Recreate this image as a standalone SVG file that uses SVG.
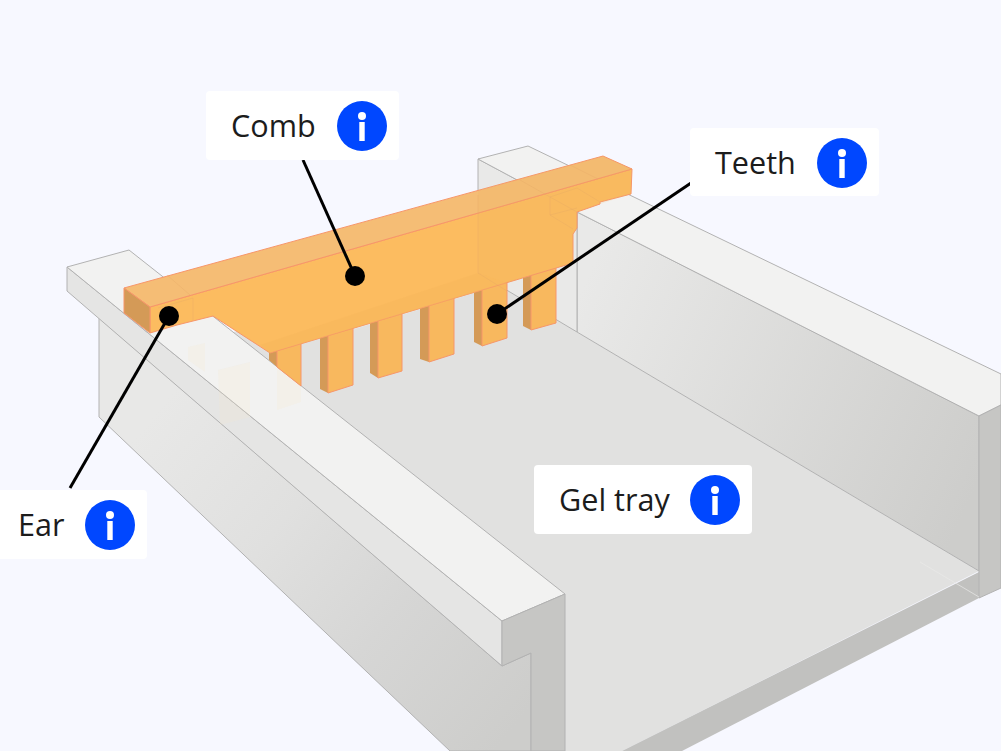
<svg xmlns="http://www.w3.org/2000/svg" width="1001" height="751" viewBox="0 0 1001 751">
<style>
.e{stroke:#b2b2b2;stroke-width:1;stroke-linejoin:round}
.c{stroke:#f7966a;stroke-width:1;stroke-linejoin:round}
.toothF{fill:#f8b85e}
.toothS{fill:#d49a57}
.ghost{fill:#f8e6cc;opacity:.22}
.faint{fill:none;stroke:#e3a765;stroke-width:.8;opacity:.4}
.box{fill:#fff}
text{font-family:"Open Sans","Noto Sans",sans-serif;font-size:30.6px;fill:#1c1c1c}
.lead{stroke:#000;stroke-width:3;fill:none}
</style>
<defs>
<linearGradient id="wallR" gradientUnits="userSpaceOnUse" x1="577" y1="300" x2="979" y2="480"><stop offset="0" stop-color="#e9e9e8"/><stop offset="1" stop-color="#cdcdcb"/></linearGradient>
<linearGradient id="wallL" gradientUnits="userSpaceOnUse" x1="150" y1="420" x2="520" y2="720"><stop offset="0" stop-color="#e8e8e7"/><stop offset=".35" stop-color="#e0e0df"/><stop offset=".65" stop-color="#d6d6d5"/><stop offset="1" stop-color="#cdcdcb"/></linearGradient>
<g id="info"><circle r="25" fill="#0047ff"/><circle cy="-10" r="4" fill="#fff"/><rect x="-2.7" y="-4" width="5.4" height="19" fill="#fff"/></g>
</defs>
<rect width="1001" height="751" fill="#f7f8ff"/>
<g id="gel-tray">
<polygon points="577,332 979,571 622,751 450,751 200,340 478,273" fill="#e1e1e0"/>
<polygon points="979,572 979,598 682,751 622,751" fill="#c1c1bf"/>
<polygon points="577,212 979,416 979,571 577,332" fill="url(#wallR)" class="e"/>
<polygon points="478,159 577,212 577,332 478,273" fill="#e9e9e8" class="e"/>
<polygon points="478,159 528,146 1001,374 1001,405 979,416 577,212" fill="#f2f2f1" class="e"/>
<polygon points="979,416 1001,405 1001,588 979,598" fill="#c6c6c4" class="e"/>
<polyline points="920,562 979,597" fill="none" stroke="#e9e9e8" stroke-width=".7"/>
<polyline points="340,333 473,293" fill="none" stroke="#e9e9e9" stroke-width="1"/>
<polygon points="99,318 502,666 531,653 531,751 450,751 99,417" fill="url(#wallL)" class="e"/>
<polygon points="67,267 502,621 502,666 67,291" fill="#e5e5e4" class="e"/>
<polygon points="67,267 129,250 565,594 502,621" fill="#f2f2f1" class="e"/>
<polygon points="502,621 565,594 565,751 531,751 531,653 502,666" fill="#c6c6c4" class="e"/>
<polygon class="ghost" points="218,370 250,362 250,417 220,425"/>
<polygon class="ghost" points="277,367 301,386 301,402 277,410"/>
<polygon class="ghost" points="188,347 205,343 205,372 188,360"/>
</g>
<g id="comb">
<polygon class="toothS" points="269,345 277,350 277,367 269,360"/>
<polygon class="toothF c" points="277,350 301,343 301,386 277,367"/>
<polygon class="toothS" points="320,335 328,335 328,393 320,389"/>
<polygon class="toothF c" points="328,335 353,325 353,385 328,393"/>
<polygon class="toothS" points="370,320 378,320 378,378 370,373"/>
<polygon class="toothF c" points="378,320 402,312 402,371 378,378"/>
<polygon class="toothS" points="420,305 429,305 429,362 420,359"/>
<polygon class="toothF c" points="429,305 454,297 454,354 429,362"/>
<polygon class="toothS" points="474,288 482,288 482,346 474,342"/>
<polygon class="toothF c" points="482,288 507,280 507,338 482,346"/>
<polygon class="toothS" points="523,273 531,273 531,330 523,326"/>
<polygon class="toothF c" points="531,273 556,265 556,323 531,330"/>
<polygon points="150,307 632,169 631,194 600,202 600,204 577,212 577,228 573,234 573,263 270,353 213,316 177,325 150,333" fill="#fcbc60" class="c"/>
<polygon points="260,345 478,273 507,283 270,353" fill="#f6b55c" opacity=".45"/>
<polygon points="124,288 603,156 632,169 150,307" fill="#f5bd75" class="c"/>
<polygon points="124,288 150,307 150,333 124,313" fill="#d49a57" class="c"/>
<polygon points="478,190 603,156 632,169 631,194 600,204 577,212 577,228 573,234 573,263 507,283 478,273" fill="#e9b35e" opacity=".14"/>
<line x1="478" y1="195" x2="478" y2="273" class="faint"/>
<line x1="478" y1="273" x2="507" y2="291" class="faint"/>
<polyline class="faint" points="520,180 550,197 577,212"/>
<polyline class="faint" points="570,165 598,179"/>
<polyline class="faint" points="550,197 577,188 600,202"/>
<polyline class="faint" points="550,197 550,215 577,208"/>
<polyline class="faint" points="550,215 573,229"/>
<polyline class="faint" points="167,275 190,295"/>
<polyline class="faint" points="158,308 193,298 193,320"/>
</g>
<g id="connectors">
<line class="lead" x1="303" y1="160" x2="355" y2="276"/>
<line class="lead" x1="691" y1="183" x2="497" y2="314"/>
<line class="lead" x1="70" y1="488" x2="169" y2="316"/>
<circle cx="355" cy="276" r="10"/>
<circle cx="497" cy="314" r="10"/>
<circle cx="169" cy="316" r="10"/>
</g>
<g id="label-comb"><rect class="box" x="206" y="91" width="193" height="69" rx="4"/><text x="231" y="136.5">Comb</text><use href="#info" x="362" y="126"/></g>
<g id="label-teeth"><rect class="box" x="690" y="128" width="189" height="68" rx="4"/><text x="715" y="173.5">Teeth</text><use href="#info" x="842" y="163"/></g>
<g id="label-ear"><rect class="box" x="-6" y="490" width="153" height="69" rx="4"/><text x="18" y="535.5">Ear</text><use href="#info" x="110" y="525"/></g>
<g id="label-gel-tray"><rect class="box" x="534" y="465" width="218" height="69" rx="4"/><text x="559" y="510.5">Gel tray</text><use href="#info" x="715" y="500"/></g>
</svg>
